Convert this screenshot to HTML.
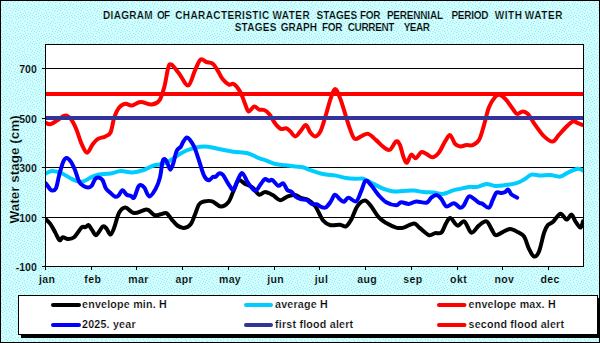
<!DOCTYPE html>
<html><head><meta charset="utf-8"><style>
html,body{margin:0;padding:0;width:600px;height:343px;overflow:hidden;background:#ccffff}
svg{display:block;font-family:"Liberation Sans",sans-serif;font-weight:bold}
</style></head><body>
<svg width="600" height="343" viewBox="0 0 600 343">
<defs>
<pattern id="dots" width="21" height="21" patternUnits="userSpaceOnUse">
<rect width="21" height="21" fill="#ccffff"/>
<g fill="#b4dfea"><rect x="10" y="4" width="1" height="1"/><rect x="12" y="20" width="1" height="1"/><rect x="1" y="2" width="1" height="1"/><rect x="17" y="3" width="1" height="1"/><rect x="11" y="18" width="1" height="1"/><rect x="1" y="16" width="1" height="1"/><rect x="6" y="1" width="1" height="1"/><rect x="2" y="13" width="1" height="1"/><rect x="13" y="2" width="1" height="1"/><rect x="17" y="13" width="1" height="1"/><rect x="3" y="7" width="1" height="1"/><rect x="20" y="20" width="1" height="1"/><rect x="18" y="1" width="1" height="1"/><rect x="18" y="18" width="1" height="1"/><rect x="9" y="13" width="1" height="1"/><rect x="4" y="17" width="1" height="1"/><rect x="9" y="17" width="1" height="1"/><rect x="5" y="3" width="1" height="1"/><rect x="20" y="6" width="1" height="1"/><rect x="15" y="17" width="1" height="1"/><rect x="13" y="10" width="1" height="1"/><rect x="9" y="7" width="1" height="1"/><rect x="2" y="18" width="1" height="1"/><rect x="13" y="5" width="1" height="1"/><rect x="10" y="10" width="1" height="1"/><rect x="1" y="9" width="1" height="1"/><rect x="0" y="14" width="1" height="1"/><rect x="15" y="1" width="1" height="1"/><rect x="6" y="9" width="1" height="1"/><rect x="12" y="12" width="1" height="1"/><rect x="5" y="14" width="1" height="1"/><rect x="7" y="4" width="1" height="1"/><rect x="2" y="5" width="1" height="1"/><rect x="9" y="0" width="1" height="1"/><rect x="16" y="19" width="1" height="1"/><rect x="3" y="15" width="1" height="1"/><rect x="20" y="12" width="1" height="1"/><rect x="3" y="10" width="1" height="1"/><rect x="3" y="0" width="1" height="1"/><rect x="6" y="19" width="1" height="1"/><rect x="11" y="15" width="1" height="1"/><rect x="15" y="14" width="1" height="1"/><rect x="6" y="16" width="1" height="1"/><rect x="16" y="9" width="1" height="1"/><rect x="7" y="12" width="1" height="1"/><rect x="15" y="6" width="1" height="1"/><rect x="19" y="15" width="1" height="1"/><rect x="6" y="6" width="1" height="1"/><rect x="18" y="10" width="1" height="1"/><rect x="0" y="4" width="1" height="1"/><rect x="17" y="16" width="1" height="1"/><rect x="20" y="17" width="1" height="1"/><rect x="8" y="2" width="1" height="1"/><rect x="11" y="8" width="1" height="1"/><rect x="4" y="12" width="1" height="1"/><rect x="11" y="1" width="1" height="1"/><rect x="13" y="16" width="1" height="1"/><rect x="18" y="5" width="1" height="1"/><rect x="14" y="8" width="1" height="1"/><rect x="17" y="7" width="1" height="1"/><rect x="19" y="8" width="1" height="1"/><rect x="8" y="15" width="1" height="1"/><rect x="15" y="11" width="1" height="1"/></g>
</pattern>
<clipPath id="pc"><rect x="45" y="44" width="539" height="223"/></clipPath>
</defs>
<rect x="0" y="0" width="600" height="343" fill="url(#dots)"/>
<rect x="0.5" y="0.5" width="599" height="342" fill="none" stroke="#000" stroke-width="1"/>
<g font-size="10" fill="#000" stroke="#ccffff" stroke-width="0.2"><text x="103.10" y="18.7" letter-spacing="0.27">DIAGRAM</text><text x="156.90" y="18.7" letter-spacing="-0.60">OF</text><text x="175.20" y="18.7" letter-spacing="0.40">CHARACTERISTIC</text><text x="272.40" y="18.7" letter-spacing="0.50">WATER</text><text x="316.40" y="18.7" letter-spacing="0.10">STAGES</text><text x="359.90" y="18.7" letter-spacing="-0.30">FOR</text><text x="386.90" y="18.7" letter-spacing="-0.20">PERENNIAL</text><text x="451.40" y="18.7" letter-spacing="-0.25">PERIOD</text><text x="494.70" y="18.7" letter-spacing="0.60">WITH</text><text x="524.70" y="18.7" letter-spacing="0.60">WATER</text><text x="234.70" y="30.5" letter-spacing="0.25">STAGES</text><text x="280.70" y="30.5" letter-spacing="0.05">GRAPH</text><text x="321.90" y="30.5" letter-spacing="-0.30">FOR</text><text x="347.70" y="30.5" letter-spacing="-0.35">CURRENT</text><text x="403.70" y="30.5" letter-spacing="-0.50">YEAR</text></g>
<rect x="45.5" y="44.5" width="538" height="222" fill="#fff"/>
<g stroke="#000" stroke-width="1"><line x1="42" y1="68.5" x2="583" y2="68.5"/><line x1="42" y1="118.5" x2="583" y2="118.5"/><line x1="42" y1="167.5" x2="583" y2="167.5"/><line x1="42" y1="217.5" x2="583" y2="217.5"/><line x1="42" y1="266.5" x2="45" y2="266.5"/><line x1="45.5" y1="266" x2="45.5" y2="270"/><line x1="91.5" y1="266" x2="91.5" y2="270"/><line x1="136.5" y1="266" x2="136.5" y2="270"/><line x1="182.5" y1="266" x2="182.5" y2="270"/><line x1="228.5" y1="266" x2="228.5" y2="270"/><line x1="274.5" y1="266" x2="274.5" y2="270"/><line x1="319.5" y1="266" x2="319.5" y2="270"/><line x1="365.5" y1="266" x2="365.5" y2="270"/><line x1="411.5" y1="266" x2="411.5" y2="270"/><line x1="457.5" y1="266" x2="457.5" y2="270"/><line x1="502.5" y1="266" x2="502.5" y2="270"/><line x1="548.5" y1="266" x2="548.5" y2="270"/></g>
<g clip-path="url(#pc)" fill="none" stroke-width="4" stroke-linejoin="round" stroke-linecap="round">
<path d="M45.3 218.8 C46.1 219.7 48.6 221.6 50.3 223.9 C52.0 226.2 53.8 229.9 55.3 232.6 C56.8 235.3 58.4 239.4 59.6 240.2 C60.9 241.0 61.4 237.4 62.8 237.2 C64.2 237.0 65.9 238.9 67.8 238.9 C69.7 238.9 71.8 239.1 74.1 237.2 C76.4 235.3 79.7 229.3 81.6 227.6 C83.5 225.9 84.2 227.5 85.4 227.1 C86.6 226.7 87.5 224.6 88.6 225.1 C89.7 225.6 90.9 228.4 92.2 230.1 C93.5 231.8 94.4 235.7 96.2 235.1 C98.0 234.5 101.2 227.4 102.9 226.4 C104.7 225.4 105.4 227.5 106.7 228.9 C108.0 230.3 109.2 234.8 110.5 234.6 C111.8 234.4 112.8 231.3 114.2 227.6 C115.7 223.9 117.3 215.9 119.2 212.6 C121.1 209.3 123.0 207.5 125.5 207.6 C128.0 207.7 130.8 212.8 134.3 213.1 C137.9 213.4 143.5 209.3 146.8 209.6 C150.2 209.9 152.1 214.3 154.4 215.1 C156.7 215.9 158.6 214.6 160.6 214.3 C162.6 214.0 164.6 212.3 166.4 213.1 C168.2 213.9 169.7 217.1 171.5 219.2 C173.3 221.3 175.2 224.0 177.3 225.5 C179.4 227.0 181.8 228.2 184.0 228.0 C186.2 227.8 188.9 226.4 190.7 224.2 C192.5 222.0 193.4 218.3 194.8 215.0 C196.2 211.7 197.5 206.8 199.0 204.5 C200.5 202.2 201.8 202.0 204.0 201.5 C206.2 201.0 209.5 200.5 212.3 201.3 C215.1 202.1 218.0 206.4 220.7 206.5 C223.4 206.6 226.4 204.6 228.5 202.0 C230.6 199.4 231.8 194.6 233.5 191.0 C235.2 187.4 236.6 181.7 238.5 180.5 C240.4 179.3 242.8 182.7 245.2 183.9 C247.6 185.1 250.4 185.8 252.7 187.6 C255.0 189.4 256.9 193.8 259.0 194.6 C261.1 195.3 262.9 192.0 265.2 192.1 C267.5 192.2 270.3 193.8 272.8 195.1 C275.3 196.4 277.8 200.0 280.3 200.2 C282.8 200.4 285.3 197.2 287.8 196.4 C290.3 195.6 293.0 194.8 295.3 195.1 C297.6 195.4 299.5 197.4 301.6 198.2 C303.7 199.0 305.6 198.3 307.9 199.7 C310.2 201.1 312.9 203.0 315.4 206.4 C317.9 209.8 320.4 217.1 322.9 220.2 C325.4 223.3 327.6 224.4 330.5 225.2 C333.4 225.9 337.4 224.5 340.0 224.7 C342.6 224.9 344.2 227.2 346.0 226.4 C347.8 225.6 349.1 223.4 351.0 220.1 C352.9 216.8 355.0 209.6 357.3 206.3 C359.6 203.0 362.5 200.5 364.8 200.5 C367.1 200.5 368.8 203.5 371.1 206.3 C373.4 209.1 376.1 214.3 378.6 217.1 C381.1 219.9 383.3 221.3 386.2 223.1 C389.1 224.8 393.3 226.8 396.2 227.6 C399.1 228.3 400.8 228.3 403.7 227.6 C406.6 226.9 411.3 223.5 413.8 223.4 C416.3 223.3 416.3 225.2 418.8 227.1 C421.3 229.0 426.1 234.1 428.8 235.1 C431.5 236.1 433.0 233.5 435.1 233.1 C437.2 232.7 439.4 234.3 441.3 232.6 C443.2 230.8 444.8 225.0 446.4 222.6 C447.9 220.2 448.7 217.6 450.6 218.1 C452.5 218.6 455.3 225.0 457.6 225.6 C459.9 226.2 462.1 220.2 464.4 221.4 C466.7 222.6 469.0 231.9 471.4 232.6 C473.8 233.3 476.3 227.5 478.8 225.6 C481.3 223.7 484.3 220.8 486.4 221.4 C488.5 222.0 489.9 226.6 491.4 228.9 C492.9 231.2 493.7 234.6 495.6 235.1 C497.5 235.6 500.3 233.1 502.7 232.1 C505.1 231.1 507.7 228.9 510.2 228.9 C512.7 228.9 515.4 230.8 517.7 232.1 C520.0 233.3 522.1 233.6 524.0 236.4 C525.9 239.2 527.3 245.6 529.0 248.9 C530.7 252.2 532.3 256.1 534.0 256.5 C535.7 256.9 537.3 255.5 539.0 251.5 C540.7 247.5 542.6 237.0 544.1 232.6 C545.6 228.2 546.3 226.8 547.8 225.1 C549.2 223.3 550.7 224.0 552.8 222.1 C554.9 220.2 558.1 214.2 560.4 213.8 C562.7 213.4 564.7 219.5 566.6 219.6 C568.5 219.7 570.1 214.3 571.6 214.6 C573.1 214.9 573.9 219.2 575.4 221.4 C576.9 223.6 579.1 227.6 580.4 227.6 C581.7 227.6 582.6 222.4 583.0 221.4" stroke="#000"/>
<path d="M45.5 173.5 C46.6 173.1 49.5 171.0 52.3 171.0 C55.1 171.0 59.0 172.1 62.3 173.5 C65.6 174.9 69.0 177.8 72.3 179.2 C75.6 180.6 79.0 182.1 82.3 181.7 C85.6 181.3 89.5 177.9 92.3 176.7 C95.1 175.5 95.9 174.9 99.0 174.4 C102.1 173.9 107.1 174.1 110.7 173.5 C114.3 172.9 117.1 171.2 120.7 171.0 C124.3 170.8 128.5 172.7 132.3 172.5 C136.1 172.3 140.3 171.1 143.7 170.0 C147.1 168.9 149.7 166.8 152.7 165.8 C155.7 164.8 158.6 164.9 161.5 164.0 C164.4 163.1 167.3 162.1 170.2 160.5 C173.1 158.9 176.1 156.2 179.0 154.5 C181.9 152.8 184.2 151.3 187.7 150.0 C191.2 148.7 196.6 147.4 200.0 146.8 C203.4 146.2 205.0 146.3 208.3 146.7 C211.6 147.1 215.8 148.4 220.0 149.2 C224.2 150.0 228.7 151.0 233.3 151.7 C237.9 152.4 243.6 152.2 247.7 153.2 C251.8 154.2 254.8 156.5 257.7 157.7 C260.6 158.9 262.3 159.1 265.2 160.2 C268.1 161.2 271.9 163.2 275.3 164.0 C278.7 164.8 282.0 164.8 285.3 165.2 C288.6 165.6 292.4 166.2 295.3 166.5 C298.2 166.8 300.4 166.6 302.9 167.2 C305.4 167.8 307.1 169.1 310.4 170.2 C313.7 171.3 318.6 173.1 322.9 174.0 C327.2 174.9 332.1 174.9 336.0 175.6 C339.9 176.3 342.6 177.6 346.0 178.1 C349.4 178.6 353.2 178.7 356.1 178.8 C359.0 178.9 360.7 178.0 363.6 178.8 C366.5 179.7 370.2 182.2 373.6 183.9 C377.0 185.6 380.4 187.7 383.7 188.9 C387.0 190.2 390.4 191.1 393.7 191.4 C397.0 191.7 400.3 191.0 403.7 190.9 C407.1 190.8 410.4 190.4 413.8 190.6 C417.2 190.8 420.5 191.8 423.8 192.1 C427.1 192.4 430.7 192.3 433.8 192.6 C436.9 192.9 439.2 194.3 442.6 193.9 C446.0 193.5 451.0 190.9 453.9 190.1 C456.8 189.3 457.5 189.4 460.0 188.9 C462.5 188.4 465.9 187.2 468.8 186.9 C471.7 186.6 474.7 187.4 477.6 186.9 C480.5 186.4 483.5 184.1 486.4 183.9 C489.3 183.7 492.0 185.7 495.1 185.9 C498.2 186.1 501.6 185.6 505.2 185.1 C508.8 184.6 513.4 184.0 516.5 183.1 C519.6 182.2 521.5 181.0 524.0 179.6 C526.5 178.2 528.8 175.3 531.5 174.6 C534.2 173.9 537.2 175.5 540.3 175.6 C543.4 175.7 546.9 174.9 550.3 175.1 C553.6 175.3 557.5 177.0 560.4 176.6 C563.3 176.2 565.0 173.9 567.9 172.6 C570.8 171.3 575.4 169.1 577.9 168.8 C580.4 168.5 582.1 170.3 583.0 170.6" stroke="#00ccff"/>
<path d="M45.3 122.6 C46.1 122.9 48.2 124.7 50.3 124.3 C52.4 123.9 55.3 121.5 57.8 120.0 C60.3 118.5 63.0 115.6 65.3 115.6 C67.6 115.6 69.7 117.6 71.6 120.0 C73.5 122.4 74.9 126.0 76.6 130.0 C78.3 134.0 79.8 140.1 81.6 143.9 C83.3 147.7 85.2 152.7 87.1 152.7 C89.0 152.7 91.1 146.2 92.9 143.9 C94.7 141.6 95.8 140.2 97.9 138.9 C100.0 137.7 103.3 137.5 105.4 136.4 C107.5 135.3 109.0 135.7 110.5 132.6 C112.0 129.5 112.8 121.8 114.2 117.6 C115.7 113.4 117.3 109.8 119.2 107.5 C121.1 105.2 123.4 104.1 125.5 103.8 C127.6 103.5 129.3 105.8 131.8 105.5 C134.3 105.2 137.3 102.2 140.6 102.0 C143.9 101.8 148.7 104.8 151.8 104.5 C154.9 104.2 157.3 103.4 159.4 100.4 C161.5 97.4 162.9 92.0 164.4 86.6 C165.9 81.2 167.0 71.5 168.2 67.8 C169.4 64.1 169.5 63.6 171.4 64.6 C173.3 65.6 176.6 70.5 179.4 74.0 C182.2 77.5 185.6 86.0 188.2 85.4 C190.8 84.8 192.9 74.6 195.0 70.3 C197.1 66.0 198.6 61.0 200.5 59.6 C202.4 58.2 204.3 61.3 206.3 62.0 C208.3 62.7 210.7 62.2 212.6 63.6 C214.5 65.0 215.9 67.7 217.6 70.3 C219.3 72.9 220.7 76.7 222.6 79.1 C224.5 81.5 227.0 83.8 228.9 84.6 C230.8 85.4 232.0 82.9 233.9 84.1 C235.8 85.3 238.3 88.3 240.2 91.7 C242.1 95.1 243.8 100.9 245.2 104.2 C246.6 107.5 247.1 111.1 248.6 111.5 C250.1 111.9 252.4 106.8 254.2 106.5 C256.0 106.2 257.5 109.0 259.2 109.6 C260.9 110.2 262.5 109.3 264.2 110.0 C265.9 110.7 267.4 111.8 269.2 114.0 C271.0 116.2 273.1 120.7 275.0 123.2 C276.9 125.7 278.9 128.0 280.8 128.8 C282.7 129.6 284.6 127.8 286.2 128.2 C287.8 128.6 288.8 130.0 290.3 131.4 C291.8 132.8 293.6 136.4 295.3 136.4 C297.0 136.4 298.6 133.3 300.4 131.4 C302.2 129.5 304.2 124.9 305.9 125.1 C307.6 125.3 308.8 130.7 310.4 132.6 C312.0 134.5 313.7 136.6 315.4 136.4 C317.1 136.2 318.7 134.7 320.4 131.4 C322.1 128.1 323.7 121.9 325.4 116.5 C327.1 111.1 328.9 103.8 330.5 99.2 C332.1 94.6 333.4 89.3 335.0 89.1 C336.6 88.9 338.2 93.6 340.0 97.9 C341.8 102.2 343.8 109.6 345.5 115.0 C347.2 120.4 348.8 126.1 350.4 130.1 C351.9 134.1 353.0 137.8 354.8 138.9 C356.6 140.0 358.9 137.2 361.1 136.4 C363.3 135.6 365.6 133.3 368.1 133.9 C370.6 134.5 373.5 137.9 376.1 140.1 C378.7 142.3 381.4 145.6 383.7 147.2 C386.0 148.8 387.8 150.7 389.9 149.7 C392.0 148.7 394.5 142.2 396.2 141.4 C397.9 140.6 398.8 142.4 400.0 145.1 C401.2 147.8 402.5 154.8 403.7 157.7 C404.9 160.6 405.8 163.2 407.0 162.7 C408.2 162.2 409.7 155.4 411.2 154.7 C412.7 153.9 414.1 158.6 415.8 158.2 C417.5 157.8 419.6 152.9 421.3 152.2 C423.1 151.5 424.4 153.1 426.3 153.9 C428.2 154.7 430.5 157.4 432.6 157.2 C434.7 157.0 436.7 155.3 438.8 152.7 C440.9 150.1 443.2 144.3 445.1 141.4 C447.0 138.5 448.4 134.7 450.1 135.1 C451.8 135.5 453.4 142.0 455.1 143.9 C456.8 145.8 458.3 146.2 460.2 146.4 C462.1 146.6 464.3 145.3 466.4 145.1 C468.5 144.9 470.6 145.9 472.7 145.1 C474.8 144.3 477.1 143.4 479.0 140.1 C480.9 136.8 482.4 130.5 484.0 125.1 C485.6 119.7 487.0 112.3 488.9 107.6 C490.8 102.9 493.2 99.1 495.1 97.0 C497.0 94.9 498.3 94.5 500.2 95.0 C502.1 95.5 504.3 97.8 506.4 100.1 C508.5 102.4 510.9 106.5 512.7 108.8 C514.5 111.1 515.5 113.5 517.2 113.9 C518.9 114.3 520.9 111.4 522.7 111.4 C524.5 111.4 525.7 111.6 527.8 113.9 C529.9 116.2 532.6 121.3 535.3 125.1 C538.0 128.8 541.2 133.7 544.1 136.4 C547.0 139.2 550.2 141.8 552.6 141.6 C555.0 141.4 556.5 137.5 558.6 135.2 C560.7 132.9 563.0 130.0 565.4 127.7 C567.8 125.4 570.8 122.2 572.9 121.4 C575.0 120.6 576.2 122.5 577.9 123.1 C579.6 123.7 582.1 124.8 583.0 125.1" stroke="#ff0000"/>
<line x1="45" y1="118" x2="583" y2="118" stroke="#333399" stroke-linecap="butt"/>
<line x1="45" y1="94" x2="583" y2="94" stroke="#ff0000" stroke-linecap="butt"/>
<path d="M45.8 183.3 C46.2 183.9 47.4 185.5 48.3 186.7 C49.2 187.9 50.0 190.0 51.3 190.3 C52.5 190.6 54.5 191.2 55.8 188.7 C57.1 186.1 58.0 179.5 59.2 175.0 C60.5 170.5 62.0 164.5 63.3 161.7 C64.5 158.9 65.5 158.0 66.7 158.0 C68.0 158.0 69.4 159.7 70.8 161.7 C72.2 163.7 73.6 166.7 75.0 170.0 C76.4 173.3 77.8 179.1 79.2 181.7 C80.6 184.3 81.8 184.8 83.3 185.8 C84.8 186.8 86.9 187.5 88.3 187.5 C89.7 187.5 90.6 187.2 91.7 185.8 C92.8 184.4 93.9 180.6 95.0 179.2 C96.1 177.8 97.0 177.4 98.3 177.5 C99.5 177.6 101.2 178.2 102.5 180.0 C103.8 181.8 104.5 186.2 105.8 188.3 C107.0 190.4 108.5 191.1 110.0 192.5 C111.5 193.9 113.6 196.1 115.0 196.7 C116.4 197.2 117.0 196.9 118.3 195.8 C119.5 194.7 121.1 190.5 122.5 190.3 C123.9 190.1 125.3 193.8 126.7 194.7 C128.1 195.6 129.6 195.3 130.8 195.8 C132.1 196.3 132.9 199.0 134.2 197.5 C135.4 196.0 137.2 188.8 138.3 186.7 C139.4 184.6 139.6 184.9 140.6 185.1 C141.6 185.2 142.9 185.7 144.3 187.6 C145.8 189.5 147.4 196.2 149.3 196.4 C151.2 196.6 153.8 192.0 155.6 188.9 C157.4 185.8 158.8 182.1 159.9 177.6 C161.1 173.1 161.7 164.8 162.5 161.7 C163.3 158.6 164.2 158.9 165.0 159.2 C165.8 159.5 166.6 161.6 167.5 163.3 C168.4 165.1 169.3 169.7 170.3 169.7 C171.3 169.7 172.2 166.5 173.3 163.3 C174.4 160.2 175.4 153.6 176.7 150.8 C177.9 148.0 179.7 148.2 180.8 146.7 C181.9 145.2 182.3 143.2 183.3 141.7 C184.3 140.2 185.6 137.8 186.7 137.5 C187.8 137.2 188.8 138.5 190.0 140.0 C191.2 141.5 192.8 143.6 194.2 146.7 C195.6 149.8 196.7 153.6 198.3 158.3 C199.9 163.0 202.1 171.4 203.8 175.1 C205.5 178.8 207.1 180.0 208.7 180.3 C210.2 180.6 211.9 177.4 213.1 176.8 C214.3 176.2 214.7 177.4 215.7 176.8 C216.7 176.2 218.0 173.7 219.2 173.3 C220.4 172.9 221.5 173.4 222.7 174.6 C223.9 175.8 225.0 178.3 226.2 180.3 C227.4 182.3 228.9 185.0 230.1 186.5 C231.3 188.0 232.2 190.6 233.5 189.5 C234.8 188.4 236.2 182.8 237.7 180.1 C239.1 177.4 240.6 172.8 242.2 173.1 C243.8 173.4 245.8 179.3 247.3 181.7 C248.9 184.1 250.1 186.0 251.5 187.5 C252.9 189.0 254.2 191.4 255.7 190.8 C257.2 190.2 259.2 186.1 260.7 184.2 C262.2 182.3 263.4 179.8 264.8 179.2 C266.2 178.6 267.8 180.7 269.0 180.8 C270.2 180.9 270.8 179.2 272.3 180.0 C273.8 180.8 276.4 185.2 278.2 185.8 C280.0 186.4 281.7 182.6 283.2 183.3 C284.7 184.0 285.9 188.6 287.3 190.0 C288.7 191.4 290.1 190.6 291.5 191.7 C292.9 192.8 294.2 195.4 295.7 196.7 C297.2 197.9 298.9 198.6 300.7 199.2 C302.5 199.8 304.6 199.2 306.5 200.0 C308.4 200.8 310.6 203.5 312.3 204.2 C314.0 204.9 315.1 203.8 316.5 204.2 C317.9 204.6 319.2 206.1 320.7 206.7 C322.2 207.2 324.0 208.3 325.7 207.5 C327.4 206.7 329.2 203.8 330.7 201.7 C332.2 199.6 333.3 195.1 334.8 194.7 C336.3 194.3 338.3 198.0 339.8 199.2 C341.3 200.4 342.6 201.9 344.0 201.7 C345.4 201.4 346.5 197.8 348.5 197.7 C350.5 197.6 354.0 202.4 356.1 201.4 C358.2 200.4 359.5 194.9 361.1 191.4 C362.7 187.9 363.9 181.7 365.6 180.6 C367.3 179.5 368.9 182.7 371.1 185.1 C373.3 187.5 376.1 192.2 378.6 195.1 C381.1 197.9 383.3 200.5 386.2 202.2 C389.1 203.9 393.7 205.2 396.2 205.2 C398.7 205.2 399.1 202.4 401.2 202.2 C403.3 202.0 406.2 204.0 408.7 203.9 C411.2 203.8 413.4 201.6 416.3 201.4 C419.2 201.2 423.8 203.3 426.3 202.7 C428.8 202.1 429.6 199.0 431.3 197.7 C433.0 196.4 434.6 194.9 436.3 195.1 C438.0 195.3 439.6 197.0 441.3 198.9 C443.0 200.8 444.3 205.7 446.4 206.4 C448.5 207.1 451.6 203.0 453.9 203.2 C456.2 203.4 458.5 207.4 460.2 207.7 C461.9 208.0 462.4 207.1 463.9 205.2 C465.3 203.3 467.2 197.4 468.9 196.4 C470.6 195.4 472.3 197.9 474.0 198.9 C475.7 199.9 477.6 201.9 479.0 202.7 C480.4 203.5 481.0 203.1 482.6 203.9 C484.2 204.7 487.2 208.3 488.9 207.7 C490.6 207.1 491.4 202.7 492.6 200.2 C493.9 197.7 494.9 193.8 496.4 192.6 C497.9 191.4 499.9 193.2 501.4 193.1 C502.9 193.0 504.1 192.7 505.2 192.1 C506.3 191.5 507.1 189.2 508.2 189.6 C509.2 190.0 510.0 193.2 511.5 194.6 C513.0 195.9 516.2 197.2 517.2 197.7" stroke="#0000ff"/>
</g>
<rect x="45.5" y="44.5" width="538" height="222" fill="none" stroke="#000" stroke-width="1"/>
<g font-size="10.5" text-anchor="end" fill="#000" stroke="#ccffff" stroke-width="0.15"><text x="36.8" y="72.7">700</text><text x="36.8" y="122.7">500</text><text x="36.8" y="171.7">300</text><text x="36.8" y="221.7">100</text><text x="36.8" y="270.7">-100</text></g>
<g font-size="10.5" text-anchor="middle" fill="#000" letter-spacing="0.4" stroke="#ccffff" stroke-width="0.15"><text x="47.1" y="282.5">jan</text><text x="92.8" y="282.5">feb</text><text x="138.6" y="282.5">mar</text><text x="184.3" y="282.5">apr</text><text x="230.0" y="282.5">may</text><text x="275.7" y="282.5">jun</text><text x="321.5" y="282.5">jul</text><text x="367.2" y="282.5">aug</text><text x="412.9" y="282.5">sep</text><text x="458.6" y="282.5">okt</text><text x="504.4" y="282.5">nov</text><text x="550.1" y="282.5">dec</text></g>
<text transform="translate(18.6 169.3) rotate(-90)" font-size="13.5" text-anchor="middle" fill="#000" stroke="#ccffff" stroke-width="0.2">Water stage (cm)</text>
<rect x="21" y="298" width="579" height="40" fill="#000"/>
<rect x="18.5" y="295.5" width="579" height="39" fill="#fff" stroke="#000" stroke-width="1"/>
<g stroke-width="4" stroke-linecap="round">
<line x1="53" y1="305" x2="79" y2="305" stroke="#000"/>
<line x1="53" y1="325" x2="79" y2="325" stroke="#0000ff"/>
<line x1="246" y1="305" x2="271" y2="305" stroke="#00ccff"/>
<line x1="246" y1="325" x2="271" y2="325" stroke="#333399"/>
<line x1="439" y1="305" x2="464.5" y2="305" stroke="#ff0000"/>
<line x1="439" y1="325" x2="464.5" y2="325" stroke="#ff0000"/>
</g>
<g font-size="10.67" fill="#000" letter-spacing="0.22" stroke="#fff" stroke-width="0.2">
<text x="82" y="307.7">envelope min. H</text>
<text x="82" y="327.8">2025. year</text>
<text x="275" y="307.7">average H</text>
<text x="275" y="327.8">first flood alert</text>
<text x="468.5" y="307.7">envelope max. H</text>
<text x="468.5" y="327.8">second flood alert</text>
</g>
</svg>
</body></html>
